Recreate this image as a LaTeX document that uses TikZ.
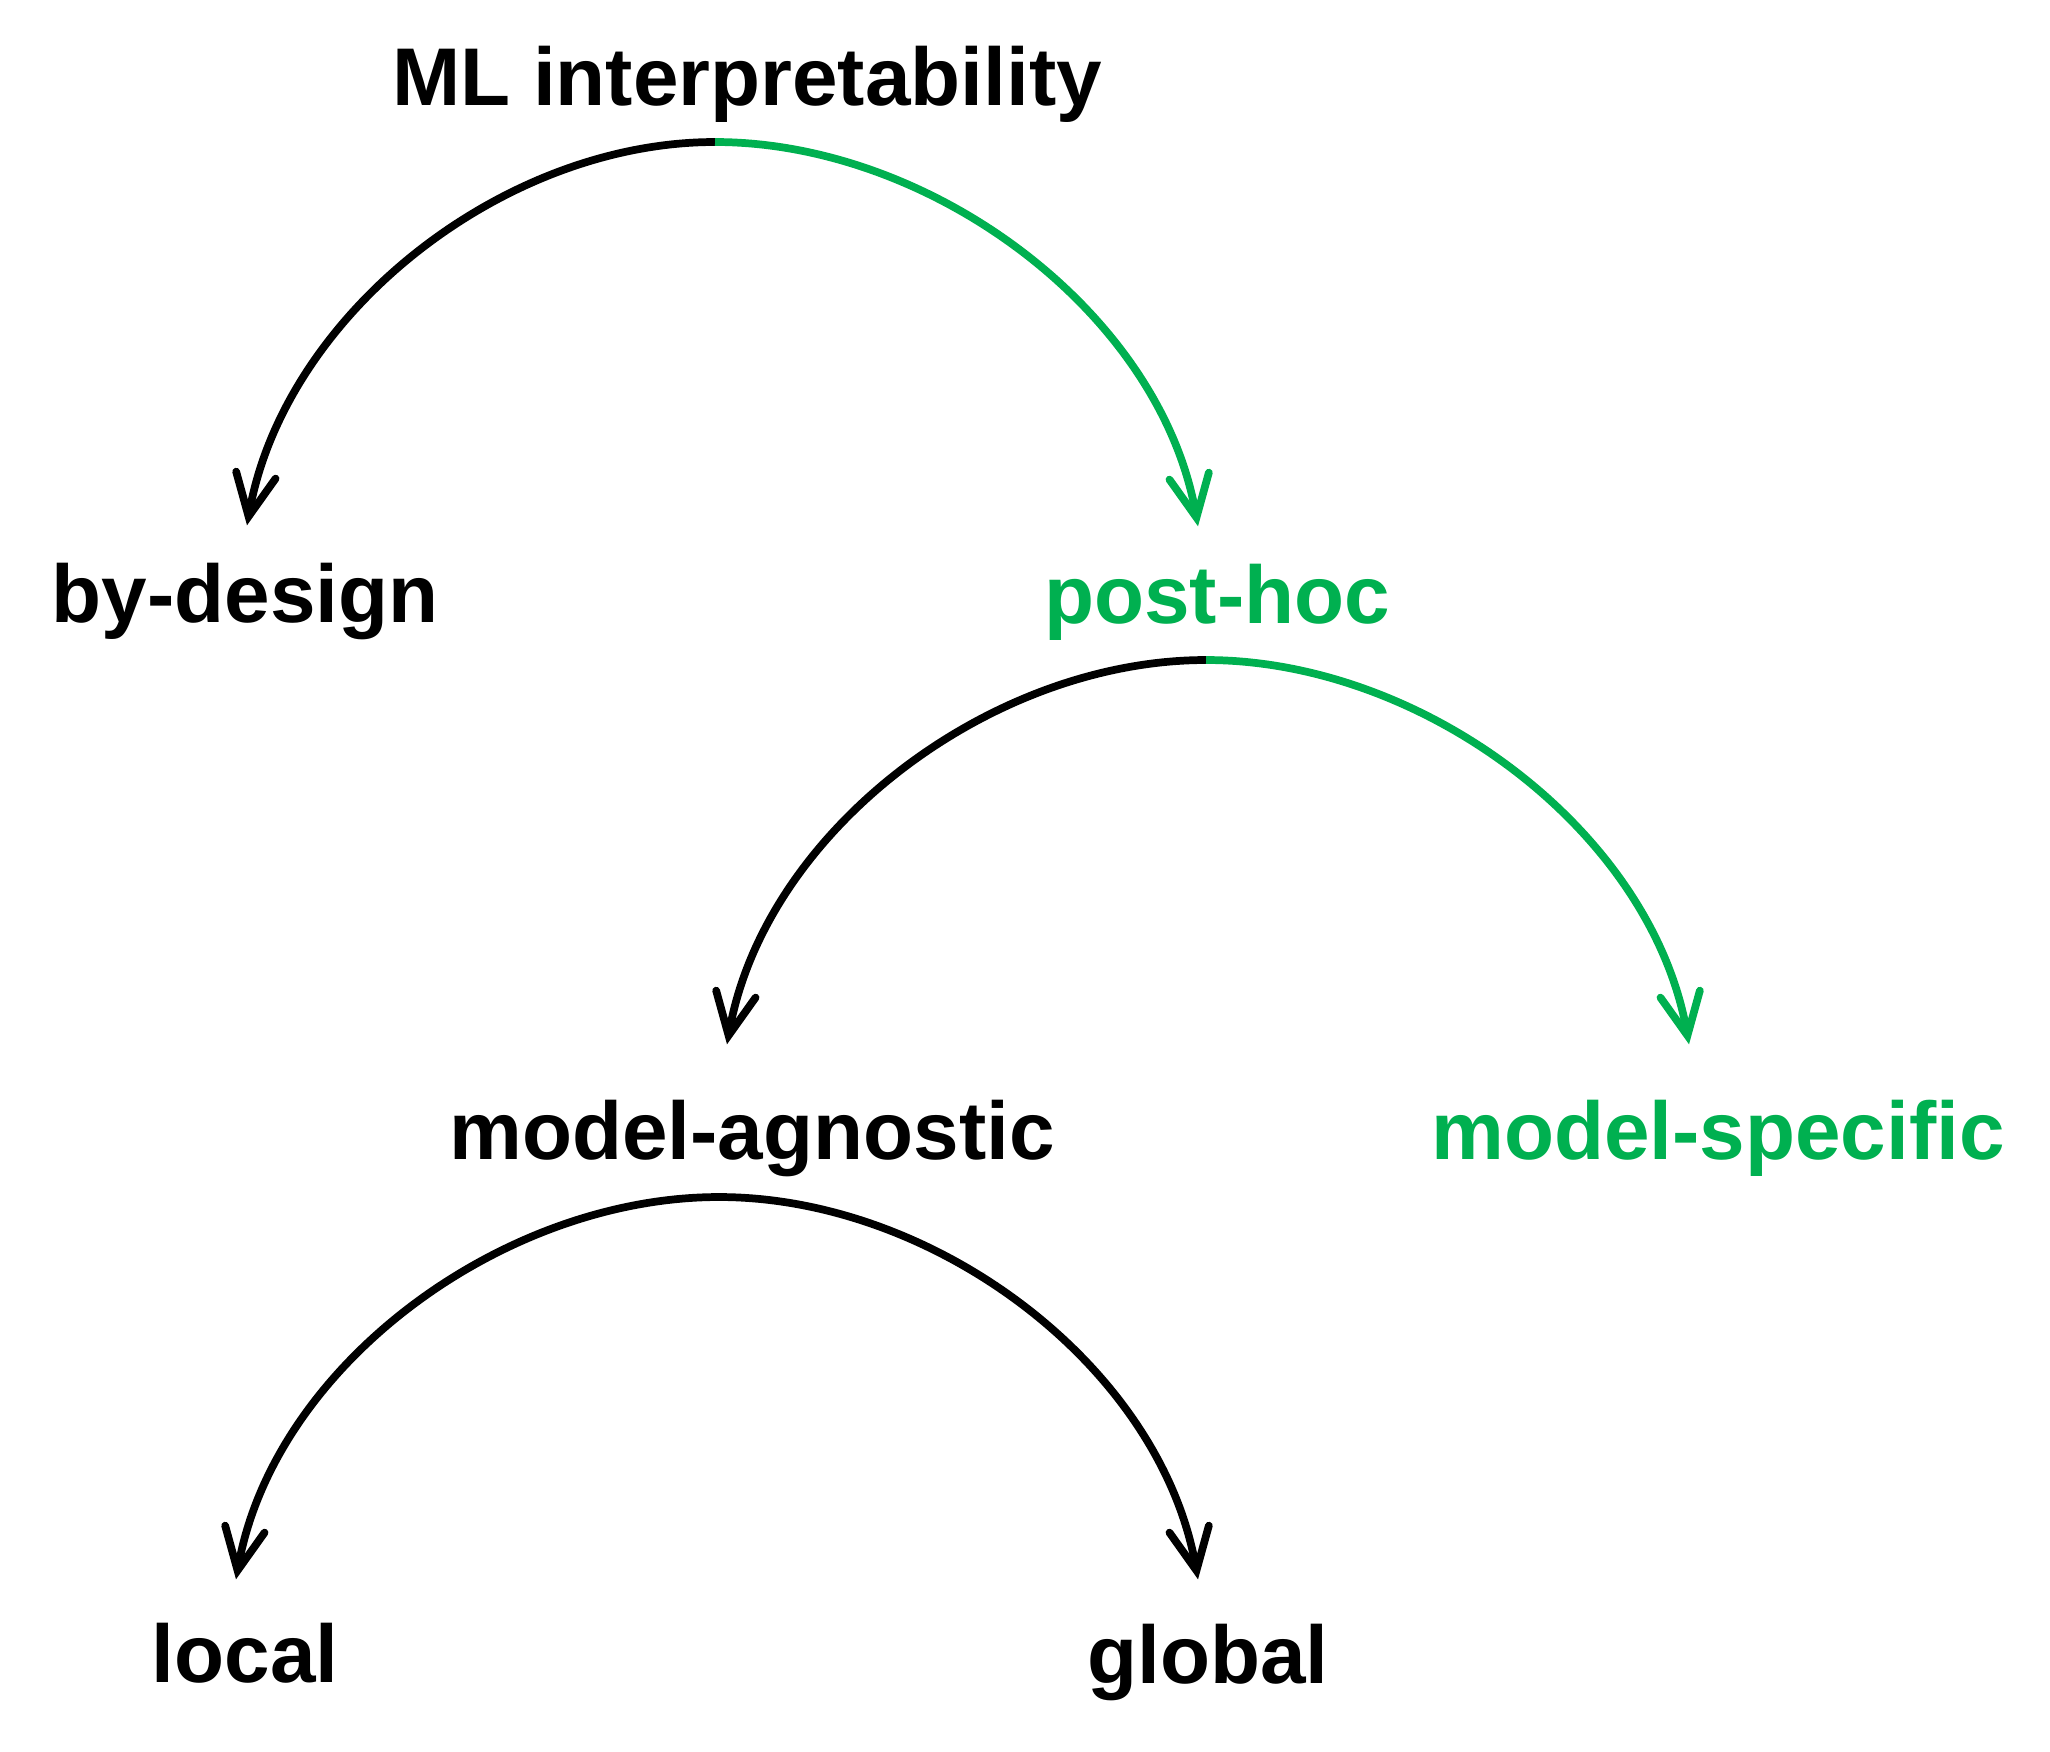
\documentclass[tikz,border=0pt]{standalone}
\usepackage{fontspec}
\setmainfont{Liberation Sans}
\usetikzlibrary{arrows.meta}
\definecolor{okgreen}{RGB}{0,176,80}

\begin{document}
\begin{tikzpicture}[
  lbl/.style={font=\fontsize{23.3}{28}\selectfont\bfseries, inner sep=0pt, text height=0.96cm, anchor=base},
  arr/.style={line width=2.2pt, -{Straight Barb[length=0.42cm,width=0.4cm,line cap=round]}},
  ]
  \useasboundingbox (0,0) rectangle (20.5,-17.51);
  % labels
  \node[lbl] (ml) at (7.47,-1.05) {ML interpretability};
  \node[lbl] (bydesign) at (2.45,-6.22) {by-design};
  \node[lbl, okgreen] (posthoc) at (12.17,-6.23) {post-hoc};
  \node[lbl] (agnostic) at (7.52,-11.59) {model-agnostic};
  \node[lbl, okgreen] (specific) at (17.18,-11.59) {model-specific};
  \node[lbl] (local) at (2.45,-16.82) {local};
  \node[lbl] (global) at (12.08,-16.83) {global};
  % split points
  \coordinate (ml-split) at (7.15,-1.42);
  \coordinate (ph-split) at (12.06,-6.60);
  \coordinate (ma-split) at (7.19,-11.97);
  \path[arr]
    (ml-split) edge[out=180,in=80,looseness=0.9] ([xshift=0.02cm]bydesign.north)
    (ml-split) edge[okgreen,out=0,in=100,looseness=0.9] ([xshift=-0.19cm]posthoc.north)
    (ph-split) edge[out=180,in=80,looseness=0.9] ([shift={(-0.25,0.18)}]agnostic.north)
    (ph-split) edge[okgreen,out=0,in=100,looseness=0.9] ([shift={(-0.29,0.18)}]specific.north)
    (ma-split) edge[out=180,in=80,looseness=0.9] ([shift={(-0.09,0.06)}]local.north)
    (ma-split) edge[out=0,in=100,looseness=0.9] ([shift={(-0.10,0.07)}]global.north);
\end{tikzpicture}
\end{document}
